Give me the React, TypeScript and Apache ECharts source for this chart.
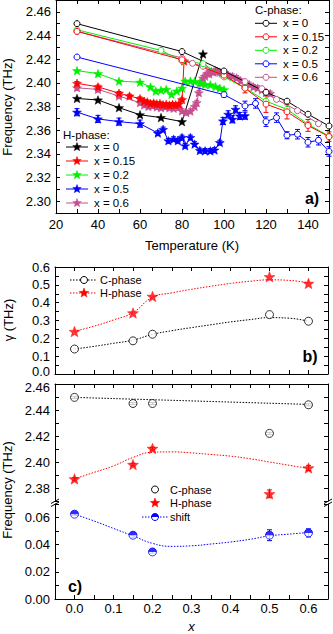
import React, { useEffect, useRef } from 'react';
import * as echarts from 'echarts';

const FONT = '"Liberation Sans", Arial, Helvetica, sans-serif';
const COL = { k: '#000000', r: '#ff0000', g: '#00f000', b: '#0000ff', p: '#c4508f' };

// ---------- Panel a : C-phase (open circles) ----------
const aC0T = [30, 80, 100, 120, 130, 140, 150];
const aC0V = [2.45, 2.4264, 2.41, 2.392, 2.3845, 2.3735, 2.3635];
const aC15T = [30, 80, 100, 110, 120, 130, 140, 150];
const aC15V = [2.4435, 2.4195, 2.4065, 2.3955, 2.382, 2.3755, 2.364, 2.3545];
const aC15E = [0, 0, 0, 0.004, 0.007, 0.006, 0.005, 0.004];
const aC20T = [30, 70, 80, 90, 100, 110, 120, 130, 140, 150];
const aC20V = [2.4448, 2.4274, 2.4185, 2.4162, 2.405, 2.3958, 2.3845, 2.3776, 2.365, 2.355];
const aC50T = [30, 100, 110, 115, 120, 125, 130, 135, 140, 145, 150];
const aC50V = [2.4218, 2.39, 2.3805, 2.3826, 2.3672, 2.3706, 2.3557, 2.3566, 2.3498, 2.3515, 2.342];
const aC50E = [0, 0.002, 0.004, 0.004, 0.004, 0.004, 0.003, 0.004, 0.004, 0.004, 0.004];
const aC60T = [30, 80, 85, 90, 100, 110, 118, 125, 135, 145];
const aC60V = [2.4435, 2.421, 2.4165, 2.414, 2.408, 2.401, 2.395, 2.386, 2.3765, 2.3655];

// ---------- Panel a : H-phase (stars) ----------
const aH0T = [30, 40, 50, 60, 70, 80, 90];
const aH0V = [2.3868, 2.3855, 2.379, 2.373, 2.3706, 2.3672, 2.4244];
const aH15T = [30, 40, 50, 55, 60, 62, 63.5, 65, 66.5, 68, 69.5, 71, 72.5, 74, 75.5, 77, 78.5, 80, 81];
const aH15V = [2.3996, 2.3966, 2.3912, 2.3889, 2.3866, 2.3845, 2.3838, 2.3826, 2.383, 2.3822, 2.3825, 2.3815, 2.3818, 2.3812, 2.3818, 2.3815, 2.382, 2.3858, 2.4185];
const aH20T = [30, 40, 50, 60, 65, 67.5, 70, 72.5, 75, 77.5, 80, 81.5, 84, 86, 88.5, 91, 93.5, 96, 98, 100];
const aH20V = [2.4103, 2.4078, 2.4014, 2.4005, 2.3965, 2.393, 2.3938, 2.3944, 2.3902, 2.393, 2.3955, 2.4014, 2.4014, 2.4012, 2.4, 2.3986, 2.3983, 2.3968, 2.3955, 2.3942];
const aH50T = [30, 40, 50, 60, 68.5, 71, 73.5, 76, 78, 80, 81.5, 84, 86, 88.5, 91, 93.5, 95.5, 98, 99.5, 102, 104, 105.5, 107.5, 110];
const aH50V = [2.3752, 2.3695, 2.3672, 2.3655, 2.3575, 2.3606, 2.351, 2.3524, 2.351, 2.3538, 2.3468, 2.3538, 2.3482, 2.3428, 2.3425, 2.3425, 2.3432, 2.3495, 2.3678, 2.3734, 2.3692, 2.3776, 2.372, 2.3722];
const aH50E = [0.003, 0.003, 0.003, 0.003, 0.002, 0.002, 0.002, 0.002, 0.002, 0.002, 0.002, 0.002, 0.002, 0.002, 0.002, 0.002, 0.002, 0.002, 0.003, 0.003, 0.003, 0.003, 0.003, 0.003];
const aH60T = [30, 40, 50, 60, 62, 64, 66, 68, 70, 72, 74, 76, 78, 80, 82, 84, 86, 87, 88, 89, 90, 91, 92, 93, 94, 95, 96, 97, 98, 99, 100, 101, 102, 104, 106, 108, 110, 112, 114, 116, 118, 120, 122];
const aH60V = [2.3958, 2.3944, 2.3888, 2.3832, 2.3812, 2.38, 2.3805, 2.3795, 2.379, 2.3796, 2.3789, 2.3785, 2.379, 2.3762, 2.3748, 2.376, 2.38, 2.3832, 2.3916, 2.4, 2.404, 2.4056, 2.408, 2.4075, 2.4096, 2.409, 2.4104, 2.4095, 2.409, 2.4084, 2.408, 2.4074, 2.4062, 2.4055, 2.4042, 2.4015, 2.4, 2.3986, 2.3966, 2.3956, 2.394, 2.3918, 2.391];
const aH60E = 0.002;

// ---------- Panel b : damping ----------
const xComp = [0, 0.15, 0.2, 0.5, 0.6];
const gammaC = [0.14, 0.186, 0.223, 0.333, 0.296];
const gammaH = [0.238, 0.342, 0.435, 0.545, 0.508];
const fitX = [0, 0.05, 0.1, 0.15, 0.2, 0.25, 0.3, 0.35, 0.4, 0.45, 0.5, 0.55, 0.6];
const gammaCFit = [0.14, 0.155, 0.172, 0.19, 0.222, 0.243, 0.26, 0.276, 0.292, 0.305, 0.316, 0.313, 0.295];
const gammaHFit = [0.24, 0.268, 0.303, 0.345, 0.43, 0.455, 0.475, 0.492, 0.508, 0.52, 0.528, 0.525, 0.51];

// ---------- Panel c : frequencies and shift ----------
const freqC = [2.4497, 2.445, 2.445, 2.422, 2.444];
const freqCE = [0.0008, 0.0008, 0.0008, 0.0008, 0.0008];
const freqH = [2.387, 2.398, 2.4104, 2.3755, 2.3954];
const freqHE = [0.001, 0.001, 0.001, 0.003, 0.002];
const freqCFitX = [0, 0.6];
const freqCFit = [2.4497, 2.4443];
const freqHFit = [2.387, 2.392, 2.397, 2.4035, 2.4075, 2.4078, 2.407, 2.4058, 2.4045, 2.4025, 2.4, 2.3975, 2.395];
const shift = [0.0625, 0.047, 0.0347, 0.047, 0.0487];
const shiftE = [0.001, 0.0015, 0.001, 0.004, 0.003];
const shiftFit = [0.0625, 0.0575, 0.052, 0.0465, 0.041, 0.0388, 0.0392, 0.0405, 0.042, 0.044, 0.0465, 0.0478, 0.049];

// ---------- helpers ----------
function starPts(cx: number, cy: number, R: number) {
  const pts: number[][] = [];
  for (let i = 0; i < 10; i++) {
    const a = -Math.PI / 2 + (i * Math.PI) / 5;
    const r = i % 2 ? R * 0.42 : R;
    pts.push([cx + r * Math.cos(a), cy + r * Math.sin(a)]);
  }
  return pts;
}
const STAR =
  'path://' +
  starPts(50, 50, 50)
    .map((p, i) => (i ? 'L' : 'M') + p[0].toFixed(2) + ',' + p[1].toFixed(2))
    .join('') +
  'Z';
const HALF = 'path://M0,50A50,50,0,0,1,100,50Z';

const pairs = (xs: number[], ys: number[]) => xs.map((x, i) => [x, ys[i]]);

function errSeries(xs: number[], ys: number[], es: number[] | number, color: string, xi: number, yi: number, cap = 2.5) {
  const data: number[][] = [];
  xs.forEach((x, i) => {
    const e = typeof es === 'number' ? es : es[i];
    if (e > 0) data.push([x, ys[i] - e, ys[i] + e]);
  });
  return {
    type: 'custom',
    xAxisIndex: xi,
    yAxisIndex: yi,
    silent: true,
    z: 1,
    data,
    encode: { x: 0, y: [1, 2] },
    renderItem: (_p: any, api: any) => {
      const lo = api.coord([api.value(0), api.value(1)]);
      const hi = api.coord([api.value(0), api.value(2)]);
      const st = { stroke: color, lineWidth: 1 };
      return {
        type: 'group',
        children: [
          { type: 'line', shape: { x1: lo[0], y1: lo[1], x2: hi[0], y2: hi[1] }, style: st },
          { type: 'line', shape: { x1: lo[0] - cap, y1: lo[1], x2: lo[0] + cap, y2: lo[1] }, style: st },
          { type: 'line', shape: { x1: hi[0] - cap, y1: hi[1], x2: hi[0] + cap, y2: hi[1] }, style: st },
        ],
      };
    },
  };
}

function tSeries(xs: number[], ys: number[], color: string, kind: 'c' | 'h') {
  return {
    type: 'line',
    xAxisIndex: 0,
    yAxisIndex: 0,
    data: pairs(xs, ys),
    symbol: kind === 'c' ? 'circle' : STAR,
    symbolSize: kind === 'c' ? 6 : 9,
    symbolKeepAspect: true,
    showAllSymbol: true,
    clip: false,
    lineStyle: { color, width: 1 },
    itemStyle: kind === 'c' ? { color: '#fff', borderColor: color, borderWidth: 1 } : { color, borderColor: color, borderWidth: 0.5 },
    z: kind === 'c' ? 4 : 3,
    silent: true,
  };
}

function fitSeries(xs: number[], ys: number[], color: string, xi: number, yi: number) {
  return {
    type: 'line',
    xAxisIndex: xi,
    yAxisIndex: yi,
    data: pairs(xs, ys),
    smooth: true,
    showSymbol: false,
    symbol: 'none',
    lineStyle: { color, width: 1, type: [1.5, 1.5] },
    z: 2,
    silent: true,
  };
}

function scat(xs: number[], ys: number[], color: string, kind: 'c' | 'h', xi: number, yi: number) {
  return {
    type: 'scatter',
    xAxisIndex: xi,
    yAxisIndex: yi,
    data: pairs(xs, ys),
    symbol: kind === 'c' ? 'circle' : STAR,
    symbolSize: kind === 'c' ? 8 : 11,
    symbolKeepAspect: true,
    itemStyle: kind === 'c' ? { color: '#fff', borderColor: color, borderWidth: 1 } : { color, borderColor: color, borderWidth: 0.5 },
    z: 4,
    silent: true,
  };
}

const lineAx = { show: true, onZero: false, lineStyle: { color: '#000', width: 1 } };
const tickAx = { show: true, inside: true, length: 4, lineStyle: { color: '#000', width: 1 } };
const lbl = { color: '#000', fontSize: 13, fontFamily: FONT };
const RICH = {
  up: { color: '#000', fontSize: 13, fontFamily: FONT, padding: [0, 0, 6, 0] },
  dn: { color: '#000', fontSize: 13, fontFamily: FONT, padding: [6, 0, 0, 0] },
};

const evenFmt = (digits: number, topShift = false) => (v: number, idx: number) => {
  const k = Math.round(v * 100);
  if (k % 2 !== 0) return '';
  const s = v.toFixed(digits);
  return topShift && k === 246 ? '{dn|' + s + '}' : s;
};

function xAx(gridIndex: number, position: string, min: number, max: number, interval: number, fmt: any, margin = 5) {
  return {
    type: 'value',
    gridIndex,
    position,
    min,
    max,
    interval,
    axisLine: lineAx,
    axisTick: tickAx,
    splitLine: { show: false },
    axisLabel: fmt ? { ...lbl, formatter: fmt, margin, showMinLabel: true, showMaxLabel: true } : { show: false },
  };
}
function yAx(gridIndex: number, position: string, min: number, max: number, interval: number, fmt: any) {
  return {
    type: 'value',
    gridIndex,
    position,
    min,
    max,
    interval,
    axisLine: lineAx,
    axisTick: tickAx,
    splitLine: { show: false },
    axisLabel: fmt ? { ...lbl, formatter: fmt, margin: 5, showMinLabel: true, showMaxLabel: true, rich: RICH } : { show: false },
  };
}

function txt(x: number, y: number, text: string, size: number, align = 'left', extra: any = {}) {
  const { weight, style: fontStyle, ...rest } = extra;
  return {
    type: 'text',
    x,
    y,
    z: 100,
    silent: true,
    ...rest,
    style: {
      text,
      fill: '#000',
      font: `${fontStyle || 'normal'} ${weight || 'normal'} ${size}px ${FONT}`,
      textAlign: align,
      align,
      textVerticalAlign: 'middle',
      verticalAlign: 'middle',
    },
  };
}
function gLine(x1: number, y1: number, x2: number, y2: number, color: string, dash?: number[]) {
  return { type: 'line', z: 100, silent: true, shape: { x1, y1, x2, y2 }, style: { stroke: color, lineWidth: 1, lineDash: dash || null } };
}
function gCircle(cx: number, cy: number, r: number, color: string) {
  return { type: 'circle', z: 101, silent: true, shape: { cx, cy, r }, style: { fill: '#fff', stroke: color, lineWidth: 1 } };
}
function gStar(cx: number, cy: number, R: number, color: string) {
  return { type: 'polygon', z: 101, silent: true, shape: { points: starPts(cx, cy, R) }, style: { fill: color, stroke: color, lineWidth: 0.5 } };
}

function buildOption() {
  const tempFmt = (v: number) => (Math.round(v) % 20 === 0 && v < 150 ? String(Math.round(v)) : '');
  const compFmt = (v: number) => {
    const k = Math.round(v * 100);
    return k % 10 === 0 && k >= 0 && k <= 60 ? (k / 100).toFixed(1) : '';
  };
  const gFmt = (v: number) => {
    const k = Math.round(v * 100);
    if (k % 10 !== 0) return '';
    const s = (k / 100).toFixed(1);
    return k === 0 ? '{up|' + s + '}' : s;
  };

  const L = 55;
  const W = 273;
  const grids = [
    { left: 56, top: 0, width: 273, height: 213 },
    { left: L, top: 267, width: W, height: 107 },
    { left: L, top: 384, width: W, height: 117 },
    { left: L, top: 504, width: W, height: 95 },
  ].map((g) => ({ ...g, show: false, containLabel: false, outerBoundsMode: 'none' }));

  const xAxis = [
    xAx(0, 'bottom', 20, 150, 10, tempFmt, 5),
    xAx(0, 'top', 20, 150, 10, null),
    xAx(1, 'bottom', -0.05, 0.65, 0.05, null),
    xAx(1, 'top', -0.05, 0.65, 0.05, null),
    xAx(2, 'top', -0.05, 0.65, 0.05, null),
    xAx(3, 'bottom', -0.05, 0.65, 0.05, compFmt, 3),
  ];
  const yAxis = [
    yAx(0, 'left', 2.29, 2.47, 0.01, evenFmt(2)),
    yAx(0, 'right', 2.29, 2.47, 0.01, null),
    yAx(1, 'left', 0, 0.6, 0.05, gFmt),
    yAx(1, 'right', 0, 0.6, 0.05, null),
    yAx(2, 'left', 2.37, 2.46, 0.01, evenFmt(2, true)),
    yAx(2, 'right', 2.37, 2.46, 0.01, null),
    yAx(3, 'left', 0, 0.07, 0.01, evenFmt(2)),
    yAx(3, 'right', 0, 0.07, 0.01, null),
  ];

  const series: any[] = [
    // panel a error bars
    errSeries(aC15T, aC15V, aC15E, COL.r, 0, 0),
    errSeries(aC50T, aC50V, aC50E, COL.b, 0, 0),
    errSeries(aH50T, aH50V, aH50E, COL.b, 0, 0),
    errSeries(aH60T, aH60V, aH60E, COL.p, 0, 0),
    errSeries(aH15T, aH15V, 0.0015, COL.r, 0, 0),
    // panel a H-phase
    tSeries(aH60T, aH60V, COL.p, 'h'),
    tSeries(aH50T, aH50V, COL.b, 'h'),
    tSeries(aH20T, aH20V, COL.g, 'h'),
    tSeries(aH15T, aH15V, COL.r, 'h'),
    // panel a C-phase
    tSeries(aC50T, aC50V, COL.b, 'c'),
    tSeries(aC60T, aC60V, COL.p, 'c'),
    tSeries(aC20T, aC20V, COL.g, 'c'),
    tSeries(aC15T, aC15V, COL.r, 'c'),
    tSeries(aC0T, aC0V, COL.k, 'c'),
    tSeries(aH0T, aH0V, COL.k, 'h'),
    // panel b
    fitSeries(fitX, gammaCFit, COL.k, 2, 2),
    fitSeries(fitX, gammaHFit, COL.r, 2, 2),
    scat(xComp, gammaC, COL.k, 'c', 2, 2),
    scat(xComp, gammaH, COL.r, 'h', 2, 2),
    // panel c top
    fitSeries(freqCFitX, freqCFit, COL.k, 4, 4),
    fitSeries(fitX, freqHFit, COL.r, 4, 4),
    scat(xComp, freqC, COL.k, 'c', 4, 4),
    errSeries(xComp, freqC, freqCE, COL.k, 4, 4, 3.5),
    errSeries(xComp, freqH, freqHE, COL.r, 4, 4),
    scat(xComp, freqH, COL.r, 'h', 4, 4),
    // panel c bottom
    fitSeries(fitX, shiftFit, COL.b, 5, 6),
    errSeries(xComp, shift, shiftE, COL.b, 5, 6),
    scat(xComp, shift, COL.b, 'c', 5, 6),
    {
      type: 'scatter',
      xAxisIndex: 5,
      yAxisIndex: 6,
      data: pairs(xComp, shift),
      symbol: HALF,
      symbolSize: 8,
      symbolKeepAspect: true,
      symbolOffset: [0, -2],
      itemStyle: { color: COL.b },
      z: 5,
      silent: true,
    },
  ];

  const g: any[] = [];
  // axis names
  g.push(txt(7, 107, 'Frequency (THz)', 13, 'center', { rotation: Math.PI / 2 }));
  g.push(txt(8, 320, 'γ (THz)', 13, 'center', { rotation: Math.PI / 2 }));
  g.push(txt(7, 490, 'Frequency (THz)', 13, 'center', { rotation: Math.PI / 2 }));
  g.push(txt(192, 245, 'Temperature (K)', 13, 'center'));
  g.push(txt(191.5, 626, 'x', 13, 'center', { style: 'italic' }));
  // panel labels
  g.push(txt(312, 198, 'a)', 16, 'center', { weight: 'bold' }));
  g.push(txt(310, 356, 'b)', 16, 'center', { weight: 'bold' }));
  g.push(txt(75, 586, 'c)', 16, 'center', { weight: 'bold' }));

  // legend C-phase (panel a)
  const cLeg: [string, string][] = [
    ['x = 0', COL.k],
    ['x = 0.15', COL.r],
    ['x = 0.2', COL.g],
    ['x = 0.5', COL.b],
    ['x = 0.6', COL.p],
  ];
  g.push(txt(255, 10, 'C-phase:', 11.5));
  cLeg.forEach(([t, c], i) => {
    const y = 23.3 + i * 13.5;
    g.push(gLine(255, y, 277, y, c));
    g.push(gCircle(266, y, 3, c));
    g.push(txt(283, y, t, 11.5));
  });
  // legend H-phase (panel a)
  g.push(txt(63, 135, 'H-phase:', 11.5));
  cLeg.forEach(([t, c], i) => {
    const y = 147 + i * 14;
    g.push(gLine(66, y, 88, y, c));
    g.push(gStar(77, y, 4.5, c));
    g.push(txt(94, y, t, 11.5));
  });

  // legend panel b
  g.push(gLine(70, 280, 97, 280, COL.k, [1.5, 1.5]));
  g.push(gCircle(84, 280, 3.5, COL.k));
  g.push(txt(100, 280, 'C-phase', 11));
  g.push(gLine(70, 293, 97, 293, COL.r, [1.5, 1.5]));
  g.push(gStar(84, 293, 5, COL.r));
  g.push(txt(100, 293, 'H-phase', 11));

  // legend panel c
  g.push(gCircle(155, 489.5, 3.5, COL.k));
  g.push(txt(170, 489.5, 'C-phase', 11));
  g.push(gStar(155, 503, 5, COL.r));
  g.push(txt(170, 503, 'H-phase', 11));
  g.push(gLine(142, 517, 168, 517, COL.b, [1.5, 1.5]));
  g.push(gCircle(155, 517, 3.5, COL.b));
  g.push({ type: 'sector', z: 102, silent: true, shape: { cx: 155, cy: 517, r: 3.5, r0: 0, startAngle: Math.PI, endAngle: Math.PI * 2 }, style: { fill: COL.b } });
  g.push(txt(170, 517, 'shift', 11));

  // axis break marks (panel c)
  [L, L + W].forEach((x) => {
    g.push(gLine(x - 4, 503.5, x + 4, 499, '#000'));
    g.push(gLine(x - 4, 506.5, x + 4, 502, '#000'));
  });

  return {
    animation: false,
    backgroundColor: '#fff',
    textStyle: { fontFamily: FONT },
    grid: grids,
    xAxis,
    yAxis,
    series,
    graphic: { elements: g },
  };
}

export default function App() {
  const ref = useRef<HTMLDivElement>(null);
  useEffect(() => {
    const chart = echarts.init(ref.current!, null, { renderer: 'svg' });
    chart.setOption(buildOption() as any);
    return () => chart.dispose();
  }, []);
  return (
    <div
      ref={ref}
      style={{ position: 'fixed', left: 0, top: 0, width: 333, height: 634, background: '#fff' }}
    />
  );
}
